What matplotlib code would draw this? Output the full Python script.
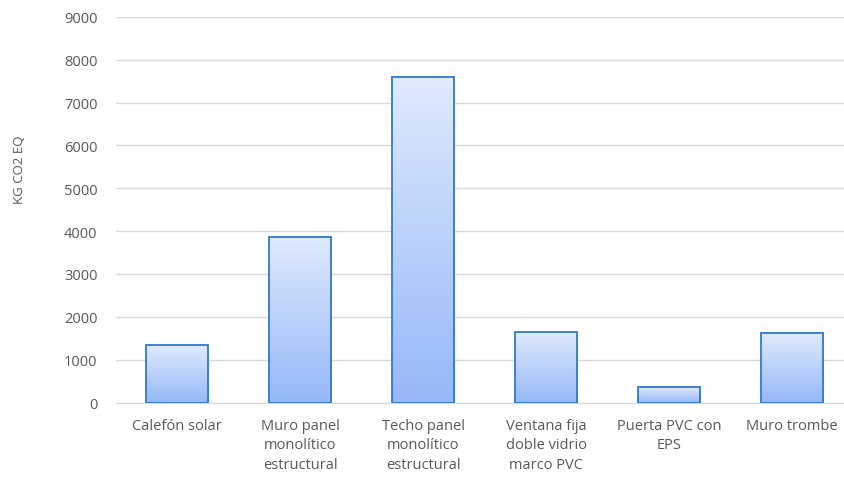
import matplotlib.pyplot as plt
import numpy as np
from matplotlib.colors import LinearSegmentedColormap

categories = ["Calefón solar", "Muro panel\nmonolítico\nestructural",
              "Techo panel\nmonolítico\nestructural",
              "Ventana fija\ndoble vidrio\nmarco PVC", "Puerta PVC con\nEPS",
              "Muro trombe"]
values = [1340, 3870, 7590, 1650, 370, 1620]
yticks = [0, 1000, 2000, 3000, 4000, 5000, 6000, 7000, 8000, 9000]

plt.rcParams['font.family'] = ['Open Sans', 'DejaVu Sans']
grey = '#595959'

fig = plt.figure(figsize=(8.44, 4.81), dpi=100)
ax = fig.add_axes([0.137, 0.161, 0.87, 0.802])

x = np.arange(len(categories))
bars = ax.bar(x, values, width=0.51, color='none', edgecolor='#2f78d3',
              linewidth=1.3, zorder=3)

# vertical gradient inside each bar, light at the top
cmap = LinearSegmentedColormap.from_list('g', ['#95b8f8', '#dfeafd'])
grad = np.linspace(0, 1, 256).reshape(-1, 1)
for b in bars:
    x0, y0 = b.get_x(), b.get_y()
    im = ax.imshow(grad, cmap=cmap, origin='lower', aspect='auto',
                   extent=[x0, x0 + b.get_width(), y0, y0 + b.get_height()],
                   zorder=2)
    im.set_clip_path(b)

ax.set_xlim(-0.5, 5.47)
ax.set_ylim(0, 9000)
ax.set_yticks(yticks)
ax.set_xticks(x)
ax.set_xticklabels(categories, color=grey, fontsize=10.5, linespacing=1.4)
ax.tick_params(axis='y', colors=grey, labelsize=10.5, length=0, pad=13)
ax.tick_params(axis='x', length=0, pad=11)
ax.grid(axis='y', color='#d9d9d9', linewidth=1, zorder=0)
for s in ['top', 'right', 'left']:
    ax.spines[s].set_visible(False)
ax.spines['bottom'].set_color('#d9d9d9')
ax.set_ylabel('KG CO2 EQ', color=grey, fontsize=9.5)
ax.yaxis.set_label_coords(-0.122, 0.605)

fig.savefig('out.png')
